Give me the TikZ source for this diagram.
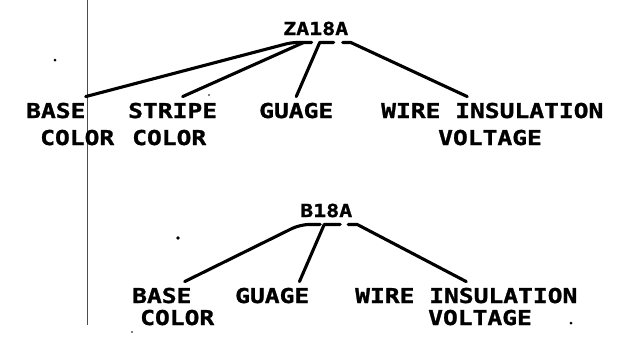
\documentclass[tikz,border=0pt]{standalone}
\usepackage{fontspec}
\usepackage{tikz}
\newfontfamily\plotfont{DejaVu Sans Mono}[FakeStretch=1.2,FakeBold=1.2]

\tikzset{
  lbl/.style={anchor=base west, inner xsep=0pt, inner ysep=6pt,
    font=\plotfont\bfseries\fontsize{20.5}{20.5}\selectfont},
  root/.style={anchor=base west, inner xsep=0pt, inner ysep=7pt,
    font=\plotfont\bfseries\fontsize{18}{18}\selectfont},
  link/.style={line width=3.1pt, line cap=round, line join=round},
}

\begin{document}
\begin{tikzpicture}[x=1pt,y=-1pt]
\useasboundingbox (0,0) rectangle (632,338);
% margin line and specks of the scan
\draw[line width=0.8pt, black!70] (87,0) -- (87,325);
\fill (55,60) circle (1.5);
\fill (209,95) circle (0.8);
\fill (178,238) circle (1.8);
\fill (571,323) circle (1.5);
\fill (132,332) circle (0.8);

% upper tree
\node[root] (rootA) at (283,35) {ZA18A};
\node[lbl] (baseA) at (26,118) {BASE};
\node[lbl] (colorAa) at (40,145) {COLOR};
\node[lbl] (stripeA) at (128,118) {STRIPE};
\node[lbl] (colorAb) at (132,145) {COLOR};
\node[lbl] (guageA) at (259,118) {GUAGE};
\node[lbl] (wireA) at (381,118) {WIRE INSULATION};
\node[lbl] (voltA) at (438,145) {VOLTAGE};
\draw[link, rounded corners=6pt] (baseA.north east) -- ([xshift=-24pt]rootA.south) -- ([xshift=-4pt]rootA.south);
\draw[link] ([xshift=10pt]stripeA.north) -- ([xshift=-12pt]rootA.south);
\draw[link] (guageA.north) -- ([xshift=4pt]rootA.south) -- ([xshift=18pt]rootA.south);
\draw[link] ([xshift=27pt]rootA.south) -- ([xshift=35pt]rootA.south) -- ([xshift=-25pt]wireA.north);

% lower tree
\node[root] (rootB) at (300,217) {B18A};
\node[lbl] (baseB) at (132,303) {BASE};
\node[lbl] (colorB) at (140,325) {COLOR};
\node[lbl] (guageB) at (235,303) {GUAGE};
\node[lbl] (wireB) at (355,303) {WIRE INSULATION};
\node[lbl] (voltB) at (428,325) {VOLTAGE};
\draw[link, rounded corners=9pt] ([xshift=-7pt]baseB.north east) -- ([xshift=-26pt]rootB.south) -- ([xshift=-6pt]rootB.south);
\draw[link] ([xshift=-10pt]guageB.north east) -- ([xshift=-2pt]rootB.south) -- ([xshift=14pt]rootB.south);
\draw[link] ([xshift=22pt]rootB.south) -- ([xshift=31pt]rootB.south) -- (wireB.north);
\end{tikzpicture}
\end{document}
